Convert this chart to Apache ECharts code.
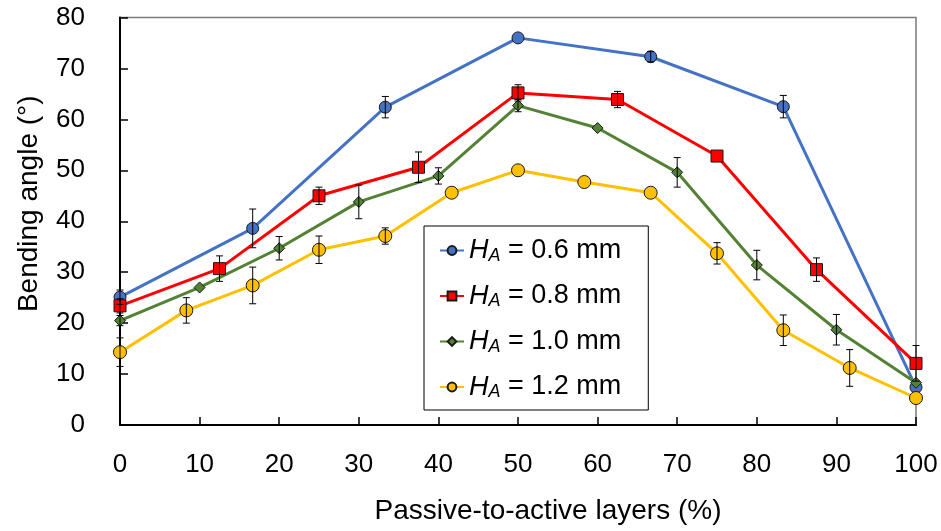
<!DOCTYPE html>
<html>
<head>
<meta charset="utf-8">
<script src="https://cdn.jsdelivr.net/npm/echarts@6/dist/echarts.min.js"></script>
<style>
html,body{margin:0;padding:0;background:#fff;}
#chart{width:941px;height:531px;}
</style>
</head>
<body>
<div id="chart"></div>
<script>
// ---- data ----
const legendLabels = ['0.6 mm', '0.8 mm', '1.0 mm', '1.2 mm'];
const seriesNames = ['HA = 0.6 mm', 'HA = 0.8 mm', 'HA = 1.0 mm', 'HA = 1.2 mm'];

const xA = [0, 16.67, 33.33, 50, 66.67, 83.33, 100];
const yA = [25.1, 38.6, 62.4, 76.0, 72.3, 62.5, 7.4];
const eA = [1.4, 3.8, 2.1, 0, 1.0, 2.2, 0];

const xB = [0, 12.5, 25, 37.5, 50, 62.5, 75, 87.5, 100];
const yB = [23.4, 30.7, 45.0, 50.6, 65.2, 63.9, 52.8, 30.5, 12.1];
const eB = [1.4, 2.5, 1.7, 3.0, 1.6, 1.6, 0, 2.3, 3.5];

const xC = [0, 10, 20, 30, 40, 50, 60, 70, 80, 90, 100];
const yC = [20.5, 27.0, 34.7, 43.8, 48.9, 62.7, 58.3, 49.6, 31.4, 18.7, 8.3];
const eC = [1.0, 0, 2.3, 3.3, 1.6, 1.2, 0, 2.9, 2.9, 3.0, 0];

const xD = [0, 8.33, 16.67, 25, 33.33, 41.67, 50, 58.33, 66.67, 75, 83.33, 91.67, 100];
const yD = [14.3, 22.5, 27.4, 34.4, 37.1, 45.6, 50.0, 47.7, 45.6, 33.7, 18.6, 11.2, 5.3];
const eD = [2.8, 2.5, 3.6, 2.7, 1.6, 0, 0, 0, 0, 2.1, 3.0, 3.6, 0];

const xTicks = [0, 10, 20, 30, 40, 50, 60, 70, 80, 90, 100];
const yTicks = [0, 10, 20, 30, 40, 50, 60, 70, 80];

// ---- styles ----
const FONT = 'Liberation Sans, Arial, sans-serif';
const colors = ['#4472C4', '#FF0000', '#548235', '#FFC000'];
const symbols = ['circle', 'rect', 'diamond', 'circle'];
const symbolSizes = [12, 12, 11, 13];

const groups = [[xA, yA, eA], [xB, yB, eB], [xC, yC, eC], [xD, yD, eD]];

function errRender(params, api) {
  const x = api.value(0), y = api.value(1), e = api.value(2);
  if (!e) return null;
  const t = api.coord([x, y + e]);
  const b = api.coord([x, y - e]);
  const hw = 3.5;
  const st = { stroke: '#000', lineWidth: 1 };
  return {
    type: 'group',
    children: [
      { type: 'line', shape: { x1: t[0], y1: t[1], x2: b[0], y2: b[1] }, style: st },
      { type: 'line', shape: { x1: t[0] - hw, y1: t[1], x2: t[0] + hw, y2: t[1] }, style: st },
      { type: 'line', shape: { x1: b[0] - hw, y1: b[1], x2: b[0] + hw, y2: b[1] }, style: st }
    ]
  };
}

const series = [];
groups.forEach((g, k) => {
  const [xs, ys, es] = g;
  series.push({
    name: seriesNames[k],
    type: 'line',
    data: xs.map((x, i) => [x, ys[i]]),
    symbol: symbols[k],
    symbolSize: symbolSizes[k],
    showAllSymbol: true,
    lineStyle: { color: colors[k], width: 3 },
    itemStyle: { color: colors[k], borderColor: '#1a1a1a', borderWidth: 1 },
    emphasis: { disabled: true },
    z: 2,
    animation: false
  });
  series.push({
    name: 'err' + k,
    type: 'custom',
    renderItem: errRender,
    data: xs.map((x, i) => [x, ys[i], es[i]]),
    encode: { x: 0, y: 1 },
    z: 3,
    silent: true,
    animation: false
  });
});

const chart = echarts.init(document.getElementById('chart'), null, { renderer: 'canvas' });
chart.setOption({
  backgroundColor: '#fff',
  animation: false,
  textStyle: { fontFamily: FONT },
  grid: {
    left: 120, right: 25, top: 17.5, bottom: 106,
    show: true, borderColor: '#7a7a7a', borderWidth: 1.5, backgroundColor: 'transparent'
  },
  legend: {
    data: seriesNames,
    orient: 'vertical',
    left: 424, top: 226,
    padding: [11, 27, 9, 15],
    itemGap: 18,
    itemWidth: 24,
    itemHeight: 11,
    backgroundColor: '#fff',
    borderColor: '#000',
    borderWidth: 1,
    borderRadius: 0,
    selectedMode: false,
    formatter: function (name) {
      const k = seriesNames.indexOf(name);
      return '{i|H}{s|A}{n| = ' + legendLabels[k] + '}';
    },
    textStyle: {
      fontFamily: FONT,
      color: '#000',
      rich: {
        i: { fontFamily: FONT, fontSize: 27, fontStyle: 'italic', lineHeight: 28, color: '#000' },
        s: { fontFamily: FONT, fontSize: 18, fontStyle: 'italic', lineHeight: 14, verticalAlign: 'bottom', color: '#000' },
        n: { fontFamily: FONT, fontSize: 27, lineHeight: 28, color: '#000' }
      }
    }
  },
  xAxis: {
    type: 'value',
    min: 0, max: 100, interval: 10,
    name: 'Passive-to-active layers (%)',
    nameLocation: 'middle',
    nameGap: 72,
    nameTextStyle: { fontFamily: FONT, fontSize: 28, color: '#000', padding: [0, 0, 0, 60] },
    axisLine: { show: true, onZero: false, lineStyle: { color: '#000', width: 2 } },
    axisTick: { show: true, inside: true, length: 8, lineStyle: { color: '#000', width: 1.5 } },
    axisLabel: {
      fontFamily: FONT, fontSize: 26, color: '#000', margin: 27,
      formatter: function (v) { return xTicks.indexOf(v) >= 0 ? String(v) : ''; }
    },
    splitLine: { show: false }
  },
  yAxis: {
    type: 'value',
    min: 0, max: 80, interval: 10,
    name: 'Bending angle (°)',
    nameLocation: 'middle',
    nameGap: 77,
    nameTextStyle: { fontFamily: FONT, fontSize: 28, color: '#000', padding: [0, 0, 0, 35] },
    axisLine: { show: true, onZero: false, lineStyle: { color: '#000', width: 2 } },
    axisTick: { show: true, inside: true, length: 8, lineStyle: { color: '#000', width: 1.5 } },
    axisLabel: {
      fontFamily: FONT, fontSize: 26, color: '#000', margin: 35,
      formatter: function (v) { return yTicks.indexOf(v) >= 0 ? String(v) : ''; }
    },
    splitLine: { show: false }
  },
  series: series
});
</script>
</body>
</html>
